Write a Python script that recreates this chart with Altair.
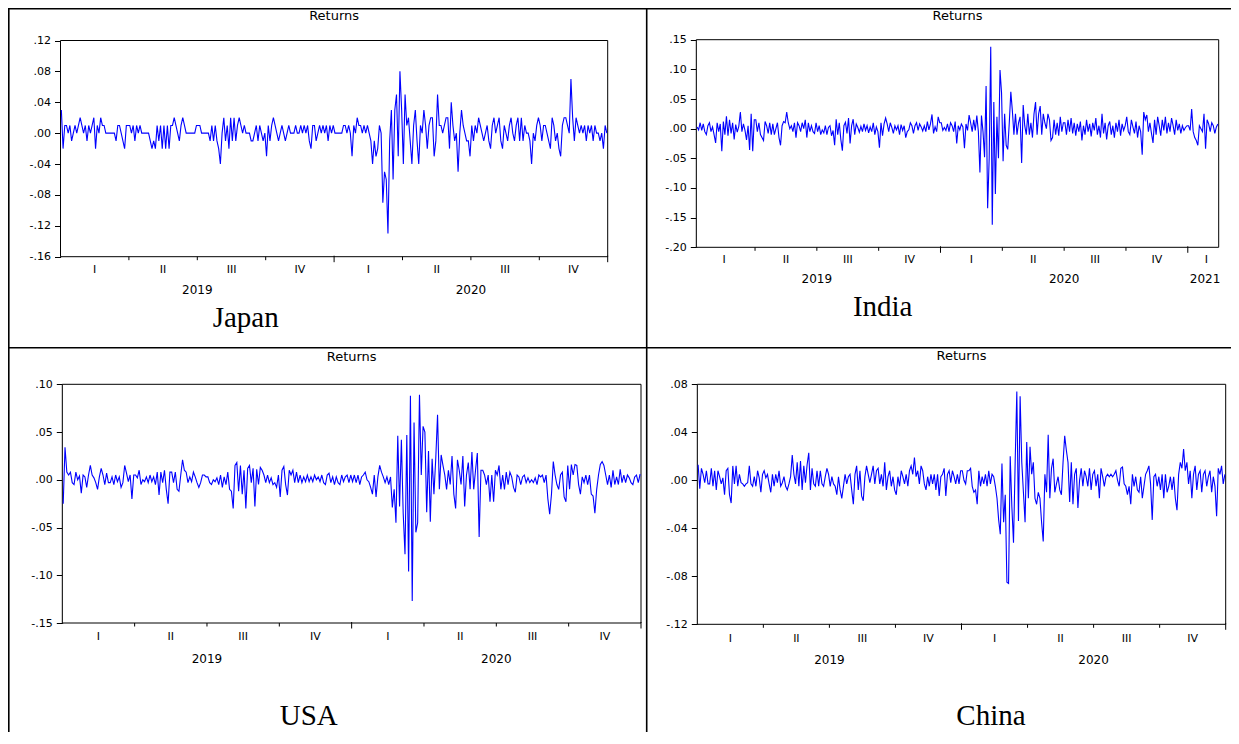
import altair as alt
import pandas as pd

# ---------------- data: daily returns (in percent) ----------------
japan_returns = [
    3, -2, 1, 1, 0, 1, -1, 0, 1, 0, 1, 2, 1, 0, 1, -1, 1, 0, 1, 2, -2, 1, 0, 2, 1, 1, 0, 0, 0, 0, 0, 0, -1, 1, 1, 0, -1, -2, 1, 1,
    1, 0, 1, -1, 1, 0, 1, 0, 0, 0, 0, 0, -1, -2, -1, -2, 1, -1, 1, -2, 1, -2, 1, -2, 1, 1, 2, 1, 0, -1, 1, 2, 1, 0, 0, 0, 0, 0, 0, 1,
    1, 1, 0, 0, 0, 0, 0, -1, 1, -1, 1, -1, -2, -4, 0, 2, -1, 1, -2, 2, -1, 2, -1, 1, 2, 1, 0, 1, 0, 0, 0, -1, -1, 0, 1, -1, 1, 0, -1, 0,
    -3, 1, -1, 1, 2, 1, 0, -1, 0, 1, 0, -1, 0, 1, 0, 0, 0, 1, 0, 0, 1, 0, 1, 0, 1, -1, -2, 1, 1, -1, 0, 1, 0, 1, 0, 1, -1, 1, 0, 1,
    0, 0, 0, 0, 0, 1, 1, 0, 1, 0, -3, 1, 0, 2, 1, 1, 0, 1, 0, 1, 0, -1, -4, -1, -3, -2, 1, 0, -9, -5, -6, -13, -1, 3, -6, 3, 5, -3, 8, 3,
    -4, 5, 1, 2, -1, -4, 1, 3, -1, -4, 1, 0, 3, 1, -2, 1, 2, 2, -3, -1, 5, 1, 1, 0, 1, 2, 2, -2, 4, 1, -1, 0, -5, 0, 3, 1, 0, -1, -1, -3,
    1, -1, 1, 0, 2, 1, 0, -1, 0, 1, -1, -2, 1, 2, 0, 1, 2, -1, -2, 1, 0, -1, 1, 2, 0, -1, 1, 2, -1, 2, -1, 1, 0, 0, -1, -4, 0, -1, 1, 2,
    1, -1, 1, 1, 0, -1, -2, 2, 1, -1, 0, -2, -3, 1, 2, 2, 1, 0, 7, 2, -1, 2, 1, 0, 1, 0, 1, -1, 1, 0, 1, -1, 1, 0, 0, -1, 0, -2, 1, 0,
]

india_returns = [
    0.3, -0.2, 1, -0.3, 0.8, -0.5, -1, 0.5, 1, -0.5, 0.3, -1, -2.4, 1, -0.5, 0.8, -3.8, 1.2, -1, 2.1,
    -1.2, 1.5, -0.8, 1, -1.8, 0.7, -0.6, 0.4, 2.8, -0.5, 0.8, -0.3, -1.9, 0.5, -3.6, 2.5, -3.8, 1.5,
    1.5, -0.5, 1, -1, -1.5, -2, 1.2, 0.5, -0.8, 1, -1, 0.8, -1, 0, 1, -1.5, -2.8, 0.5, 1.2, 1,
    2.8, 1, 0, 0.5, -0.5, 1, -1.5, 1, 0.5, -0.5, 1, 0, 1.5, -1.5, 1, -0.5, 0.5, -0.5, -0.8, 1,
    -0.5, 0.5, -1, -0.2, -0.7, 0.5, -1, 0.2, 0.5, -1.2, -0.3, -2.8, 1.6, -1, 1, -1.8, -3.7, 0.5, 1.1, -0.8,
    1.8, -2.5, 0.5, 1.6, -1, 0.8, 0.2, -0.6, 0.4, -0.5, 0.8, -0.3, 0.5, -0.7, 0.3, -0.5, 1, -1, 0.3, -0.5,
    -3.2, 1, -1.2, 0.8, 1.8, 0.8, -0.5, 1, 0.2, -0.8, 0.5, -0.2, 0.5, -1, 0.7, -0.3, 0.5, -1.5, -0.5, -0.2,
    1, 0.5, -0.8, 0.5, 1, -0.3, 0.8, 0.3, -0.4, 0.5, -0.5, 1.2, -0.2, 0.8, 2.4, -0.8, 0.3, -0.5, 2, 1,
    1, -0.3, 0.2, -0.3, 0.8, -0.5, 1, 0.5, -0.5, 1.2, -2.5, 0.5, -0.2, 0.8, 0.3, -3.3, 0.8, -0.3, 2.3, 1,
    -0.5, 1.5, -0.3, 2.2, -0.5, -7.4, 2.2, -0.5, -4.8, 7.2, -13.4, -5, 13.8, -16.2, 4.5, -11, 2, -5, 9.9, 6,
    -5.5, 2.5, -2.8, -3.5, 1, 6.2, 3, -1, 2.5, -1, 1, 2, -5.8, 4, 0.5, -1, 2.5, -1, 1, -1.5,
    2.5, 4.5, -1, 2.5, 3.8, -1, 2.5, 1, 0, 2.5, 1.5, -2, -1.5, 1.5, -1, 1, -1.2, 2, -0.5, 1,
    1, -1, 1.5, -0.5, 1.8, -0.8, 1, -1.2, 0.8, -0.5, 1.2, -2, 0.5, -1, 1.5, -0.5, 0.8, -1.3, 1, -0.3,
    1.8, -1, 0.5, -1.5, 2.5, -0.8, 1, -1.8, 0.5, 1.2, -1, 0.5, -1.5, 1, -0.5, 1.5, -1.2, 0.8, -0.3, 0.5,
    2, -0.5, -1, 1.5, 0.3, -0.8, 1.2, -1.5, 0.5, -0.5, -4.4, 2.8, 1.5, 2.3, -0.5, 1, -0.8, -2.4, 1.5, -1,
    2, 0.5, -1.2, 1.5, -0.3, 2, -0.8, 1, -0.5, 1.8, 0.5, -1, 1.5, -0.3, 0.8, -0.8, 0.5, -0.3, 0.2, 0.5,
    0.5, -0.3, 3.3, -0.5, -1.5, -2, -2.8, 0.5, 0, -0.5, 2.5, -3.4, 1.5, 0.8, -0.5, 1, 0.5, -0.8, 0.3, 0.8,
]

usa_returns = [
    -2.5, 3.4, 0.8, 0.5, 0.8, -0.3, -0.5, 0.8, 0, 0.4, -1.4, 0.5, 0.3, -0.8, 0.5, 1.5, 0.5, 0.2, -0.3, -1,
    0.3, 1.2, 0.5, -0.5, 0.7, -0.3, -0.3, 0.3, -0.5, 0.5, -0.2, 0.3, -0.8, -0.3, 1.5, 0.7, -0.2, 0.5, -2, 0.5,
    0.5, 0.2, 1, -0.5, 0, -0.2, 0.3, -0.3, 0.5, -0.2, 0.3, -0.5, 0.8, -1.6, 0.8, -0.3, 1, -1, -2.5, 0.8,
    0.8, -0.3, 0.8, -1, -1.2, 0.5, 2.1, 1, 0.8, -0.3, 0.3, -0.2, 0.8, 0.3, -0.3, -0.8, -0.3, 0.5, 0.5, 0.3,
    0.3, -0.3, -0.5, 0, -0.2, 0.2, -0.5, 0.5, -0.8, 0.3, -0.5, 0.8, -1, -1.2, -3, 1.5, 1.8, -1.2, 1.5, -1.5,
    1, -3, 1.2, 1.5, -0.3, 1.2, -2.8, 1.1, -0.5, 1.3, 1, 0.5, -0.3, 0.5, -0.3, 0.2, -0.5, -0.3, -0.8, 0.5,
    -1.8, 1, 1.4, -0.5, -1.6, 1, 0.5, 1, -0.3, 0.8, -0.3, 0.5, -0.3, 0.3, -0.2, 0.5, -0.2, 0.3, -0.2, 0.5,
    0, 0.3, -0.2, 0.5, -0.3, -0.5, 0.5, 0.7, -0.3, 0.3, -0.5, 0.3, -0.3, -0.5, 0.5, -0.2, 0.3, 0.5, -0.3, 0.5,
    -0.2, 0.5, -0.3, 0.5, -0.5, 0.3, 0.5, 0.8, 0, -0.2, -0.8, -1.5, 0.5, -1.8, 0.3, 1.5, 0.8, 0.3, -0.3, 0.3,
    -0.5, 0.3, -2.9, -1, -4.5, 4.6, -2.8, 4.2, -3.5, -7.8, 4.7, -9.6, 8.8, -12.7, 6, -5.5, -4.5, 8.9, 0.5, 5.6,
    5, -3.4, 3, -4.4, 2.2, -1.5, 2.2, 6.8, -1, 2.6, 1.5, 0.5, -1, 1, -0.5, 2.5, -1.5, -3, 2.1, 1,
    -0.5, 2.5, -2.8, 0.5, 1.8, -1, 2.9, -1, 1, 2.8, -6, 1, 1, 0.5, -0.5, 0.5, -2.3, 0.5, -2.3, 1,
    0.5, 1.5, -1, 0.5, -1, 0.8, -0.5, 0.8, 0.3, -0.8, -1.3, 0.5, 0.3, -0.5, 0.3, 0.5, -0.3, 0.2, -0.3, 0,
    -0.3, 0.2, -0.5, 0.5, 0.3, 0.5, -0.3, 0.5, -2, -3.6, -1.5, 1.9, 0.5, -0.5, -1, 0.5, 0.8, -1.8, -2.3, 1.5,
    -1, 1.6, 0.5, 1.6, 1.5, -0.5, -1.5, 0.3, -0.3, 0.5, -0.5, 0.5, -1.5, -1.7, -3.5, -1, 0.5, 1.6, 1.9, 1.5,
    0.5, -0.5, 0.5, -0.8, 1, -0.5, 0.3, -0.5, 1.1, -0.3, 0.5, -0.3, 0.5, 0.2, -0.3, -0.5, 0.3, 0.5, -0.3, 0.6,
]

china_returns = [
    1.3, -0.7, 1, 0.5, -0.2, 0.8, -0.3, -0.3, 1, -0.5, 0.8, -0.8, 0.8, 0.3, -0.3, 0.2, -1.2, 0.8, 1, -1.2,
    -1.9, 1.2, -0.3, 1.2, -0.5, 0.5, -0.2, -0.3, -0.5, -0.3, -0.2, 1.2, -0.3, -0.5, 0.3, -0.5, 0.8, 0.2, -1, 0.5,
    0.8, 0.2, 0.5, -0.3, -1, 0.5, -0.5, 0.5, -0.2, 0.8, -0.5, -0.2, 0.3, -0.5, -0.8, -0.3, 0.3, 2.1, 0.5, -0.3,
    1.5, -0.5, 1.6, -0.8, 1.2, -0.2, 1.3, 2.3, -0.8, 1, -0.3, -0.5, 0.8, -0.5, 0.8, -0.3, -0.5, 0.3, 1, 0.5,
    -0.5, 0.3, -0.3, -0.5, -1.2, 0.3, -0.8, -1.5, -0.5, 0.5, -0.3, 0.3, 0.5, -0.8, -2, 0.5, 1.2, -0.8, 0.8, -1.3,
    -1.7, 0.3, 1.2, 0.5, -0.2, 0.5, 1.2, -0.3, 0.8, 1, -0.3, 0.5, -0.5, 1.5, -0.8, 0.3, 0.8, -0.5, 0.3, -0.8,
    -1.2, 0.3, -0.5, 0.8, 0.3, -0.3, 0.5, -0.5, 0.8, 1.2, 0.5, 1.9, 0.3, 0.8, -0.3, 1.2, 0.8, -0.3, -0.8, 0.3,
    -0.5, 0.5, -0.3, 0.5, -0.8, 0.5, -1.3, 0.3, 0.5, 1, -1.3, 0.5, 0.8, -0.2, 0.8, 0.3, -0.3, 0.5, -0.3, 0.8,
    0.8, 0, -0.3, 0.8, 0.8, 1, -0.5, -1, -0.8, -2, 0.8, -0.5, 0.3, -0.3, 0.5, -0.5, 0.8, -0.3, 0.5, 0.3,
    -0.5, -1.5, -3.3, -4.5, 1.4, -3.5, -1.2, -8.5, -8.6, 2, -2.2, -5.2, 1.5, 7.4, -3.4, 7, 1.5, -1, -3.5, 3.2,
    -1.5, 2.8, 0.5, 1.5, -1.5, -2, -1, -1.5, -3.5, -5.1, 0.5, -1, 3.8, -1.5, 1, 1.8, -1, -0.3, 0.3, -0.8,
    -1.2, 1.5, 3.7, 2.5, 1.5, -1.8, 1.5, -2, 0.5, 1, -2.3, 0, 1, -0.5, 0.8, 0.3, -0.5, 1, -0.8, 0.5,
    0.8, -0.5, 0.5, -1.5, 1, 0.3, -0.5, 0.3, 0.5, 0.3, 0.5, 0.3, 0.5, 0.8, 0, -0.5, 1, 1.1, -0.3, -0.5,
    -1.2, -0.5, -2, 0.5, -0.5, 0.3, -0.8, -1, 0.3, -1.5, -0.5, 0.5, 0.8, 1.2, -0.3, -3.3, 0.3, 0.5, -0.5, 0.3,
    -0.8, 0.5, -1.5, 0.5, -1, -0.5, 0.3, -0.8, 0.3, -1.5, -2.5, 0.5, 1.5, 1, 2.6, 0.8, 1.5, -0.3, 0.8, -1.5,
    0.5, 1.2, -0.8, 0.5, 0.8, -1, 0.5, 0.8, -0.5, 0.3, 0.8, -1, 0.3, -0.5, -3, 1, 0.5, 1.2, -0.3, 0.5,
]

quarter_names = ["I", "II", "III", "IV"]
japan_yticks = [-0.16, -0.12, -0.08, -0.04, 0.0, 0.04, 0.08, 0.12]
india_yticks = [-0.20, -0.15, -0.10, -0.05, 0.0, 0.05, 0.10, 0.15]
usa_yticks = [-0.15, -0.10, -0.05, 0.0, 0.05, 0.10]
china_yticks = [-0.12, -0.08, -0.04, 0.0, 0.04, 0.08]

# ---------------- styling ----------------
FONT = "DejaVu Sans"
SERIF = "Liberation Serif"
BLUE = "#0000ff"
LBL = "(datum.value < 0 ? '-' : '') + replace(format(abs(datum.value), '.2f'), '0.', '.')"

# whole drawing kept inside the 1239x744 window (page margin 8px)
W, H = 1223, 724


def one_row():
    return pd.DataFrame({"k": [0]})


def panel(values, q0, q1, left, right, top, bottom, ydom, yticks,
          qpos, qtext, ypos, ytext, qlab_y, yr_y, title_y, name, name_x, name_y,
          short_ticks, long_ticks):
    xs = alt.Scale(domain=[q0, q1], range=[left, right], nice=False, zero=False)
    ys = alt.Scale(domain=ydom, range=[bottom, top], nice=False, zero=False)
    n = len(values)
    df = pd.DataFrame({
        "q": [q0 + (i + 0.5) * (q1 - q0) / n for i in range(n)],
        "r": [v / 100 for v in values],
    })
    out = []
    out.append(alt.Chart(one_row()).mark_rect(fill="white", stroke="black", strokeWidth=1).encode(
        x=alt.value(left), x2=alt.value(right), y=alt.value(top), y2=alt.value(bottom)))
    out.append(alt.Chart(df).mark_line(color=BLUE, strokeWidth=1.1).encode(
        x=alt.X("q:Q", scale=xs, axis=None),
        y=alt.Y("r:Q", scale=ys, axis=alt.Axis(
            orient="left", offset=-left, values=yticks, labelExpr=LBL, title=None,
            grid=False, tickSize=6, tickColor="black", tickWidth=1, domainColor="black",
            domainWidth=1, labelColor="black", labelFont=FONT, labelFontSize=11,
            labelPadding=4))))
    out.append(alt.Chart(pd.DataFrame({"q": short_ticks})).mark_rule(color="black", strokeWidth=1).encode(
        x=alt.X("q:Q", scale=xs, axis=None), y=alt.value(bottom), y2=alt.value(bottom + 3.5)))
    out.append(alt.Chart(pd.DataFrame({"q": long_ticks})).mark_rule(color="black", strokeWidth=1).encode(
        x=alt.X("q:Q", scale=xs, axis=None), y=alt.value(bottom - 1), y2=alt.value(bottom + 5.5)))
    out.append(alt.Chart(pd.DataFrame({"q": qpos, "t": qtext})).mark_text(
        font=FONT, fontSize=11, color="black", baseline="middle", align="center").encode(
        x=alt.X("q:Q", scale=xs, axis=None), y=alt.value(qlab_y), text="t:N"))
    out.append(alt.Chart(pd.DataFrame({"q": ypos, "t": ytext})).mark_text(
        font=FONT, fontSize=12, color="black", baseline="middle", align="center").encode(
        x=alt.X("q:Q", scale=xs, axis=None), y=alt.value(yr_y), text="t:N"))
    out.append(alt.Chart(pd.DataFrame({"t": ["Returns"]})).mark_text(
        font=FONT, fontSize=13, color="black", baseline="alphabetic", align="center").encode(
        x=alt.value((left + right) / 2), y=alt.value(title_y), text="t:N"))
    out.append(alt.Chart(pd.DataFrame({"t": [name]})).mark_text(
        font=SERIF, fontSize=29, color="black", baseline="alphabetic", align="center").encode(
        x=alt.value(name_x), y=alt.value(name_y), text="t:N"))
    return out


q8 = [0.5, 1.5, 2.5, 3.5, 4.5, 5.5, 6.5, 7.5]
qt8 = quarter_names * 2

layers = []
layers += panel(japan_returns, 0, 8, 52.5, 599.7, 32.5, 248.7, [-0.16, 0.12], japan_yticks,
                q8, qt8, [2, 6], ["2019", "2020"], 261.7, 281.7, 11.5, "Japan", 237.7, 319.3,
                [1, 2, 3, 5, 6, 7], [4, 8])
layers += panel(india_returns, 0.05, 8.5, 688.3, 1210.7, 31.7, 239.3, [-0.20, 0.15], india_yticks,
                q8 + [8.3], qt8 + ["I"], [2, 6, 8.28], ["2019", "2020", "2021"], 251.7, 270.7, 11.5,
                "India", 874.7, 308.3, [1, 2, 3, 5, 6, 7], [4, 8])
layers += panel(usa_returns, 0, 8, 54.3, 633.0, 376.3, 615.0, [-0.15, 0.10], usa_yticks,
                q8, qt8, [2, 6], ["2019", "2020"], 629.0, 650.7, 353.0, "USA", 300.7, 716.5,
                [1, 2, 3, 5, 6, 7], [4, 8])
layers += panel(china_returns, 0, 8, 689.3, 1217.7, 376.3, 616.3, [-0.12, 0.08], china_yticks,
                q8, qt8, [2, 6], ["2019", "2020"], 631.3, 652.3, 352.3, "China", 983.0, 717.0,
                [1, 2, 3, 5, 6, 7], [4, 8])

# table cell borders
for (x1, x2, y1, y2) in [(0.8, 0.8, 0, H), (638.7, 638.7, 0, H), (0, W, 0.8, 0.8), (0, W, 339.7, 339.7)]:
    layers.append(alt.Chart(one_row()).mark_rule(color="black", strokeWidth=1.6).encode(
        x=alt.value(x1), x2=alt.value(x2), y=alt.value(y1), y2=alt.value(y2)))

chart = alt.layer(*layers).resolve_scale(x="independent", y="independent").properties(
    width=W, height=H, padding=0, autosize=alt.AutoSizeParams(type="none")
).configure_view(stroke="transparent", strokeWidth=0)

chart.save("out.html", embed_options={"renderer": "svg", "actions": False})
